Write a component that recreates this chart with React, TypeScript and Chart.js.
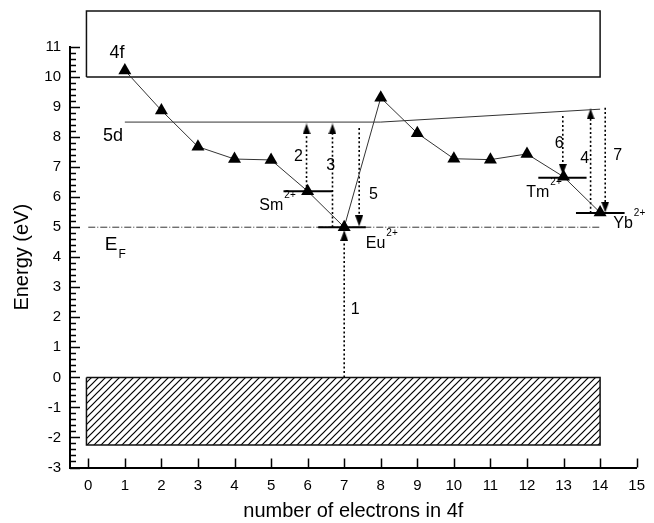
import React, { useEffect, useRef } from 'react';
import { Chart, registerables } from 'chart.js';

Chart.register(...registerables);

// ---- data ----
const electrons = [1, 2, 3, 4, 5, 6, 7, 8, 9, 10, 11, 12, 13, 14];
const energies = [10.22, 8.89, 7.68, 7.27, 7.24, 6.2, 5.0, 9.31, 8.13, 7.28, 7.25, 7.44, 6.68, 5.49];

const band5dX = [1, 8, 14];
const band5dY = [8.5, 8.5, 8.93];

const fermiX = [0, 14];
const fermiY = [5, 5];

const box4fX = [-0.05, 14, 14, -0.05, -0.05];
const box4fY = [10, 10, 12.2, 12.2, 10];

const valenceX = [-0.05, 14, 14, -0.05, -0.05];
const valenceY = [0, 0, -2.25, -2.25, 0];

const levelX0 = [5.34, 6.29, 12.31, 13.34];
const levelX1 = [6.68, 7.59, 13.63, 14.67];
const levelY = [6.2, 5.0, 6.65, 5.47];

// arrows 1..7
const arrowX = [7.0, 5.97, 6.68, 13.74, 7.41, 12.98, 14.14];
const arrowFrom = [0, 6.2, 5.0, 5.47, 8.3, 8.7, 8.98];
const arrowTo = [4.72, 8.27, 8.27, 8.77, 5.21, 6.93, 5.67];

const annText = ['4f', '5d', 'E', 'Sm', 'Eu', 'Tm', 'Yb', '1', '2', '3', '4', '5', '6', '7'];
const annSup = ['', '', '', '2+', '2+', '2+', '2+', '', '', '', '', '', '', ''];
const annSub = ['', '', 'F', '', '', '', '', '', '', '', '', '', '', ''];
const annX = [0.58, 0.4, 0.45, 4.68, 7.59, 11.98, 14.36, 7.18, 5.63, 6.51, 13.46, 7.68, 12.76, 14.36];
const annY = [10.81, 8.05, 4.42, 5.72, 4.47, 6.16, 5.12, 2.27, 7.36, 7.05, 7.28, 6.08, 7.78, 7.38];
const annSize = [18, 18, 19, 16, 16, 16, 16, 16, 16, 16, 16, 16, 16, 16];

const xTicks = [0, 1, 2, 3, 4, 5, 6, 7, 8, 9, 10, 11, 12, 13, 14, 15];
const yTicks = [-3, -2, -1, 0, 1, 2, 3, 4, 5, 6, 7, 8, 9, 10, 11];
const yMinorStep = 0.2;

const FONT = '"Liberation Sans", Arial, sans-serif';

function pts(xs: number[], ys: number[]) {
  return xs.map((x, i) => ({ x, y: ys[i] }));
}

function makeHatch(): CanvasPattern | string {
  const c = document.createElement('canvas');
  c.width = 7;
  c.height = 7;
  const g = c.getContext('2d')!;
  g.strokeStyle = '#000';
  g.lineWidth = 1.2;
  g.beginPath();
  g.moveTo(-1, 8);
  g.lineTo(8, -1);
  g.moveTo(-1, 1);
  g.lineTo(1, -1);
  g.moveTo(6, 8);
  g.lineTo(8, 6);
  g.stroke();
  const p = g.createPattern(c, 'repeat');
  return p || '#888';
}

function makeArrow(up: boolean) {
  const c = document.createElement('canvas');
  c.width = 8;
  c.height = 11;
  const g = c.getContext('2d')!;
  g.fillStyle = '#000';
  g.beginPath();
  if (up) {
    g.moveTo(4, 0);
    g.lineTo(8, 11);
    g.lineTo(0, 11);
  } else {
    g.moveTo(0, 0);
    g.lineTo(8, 0);
    g.lineTo(4, 11);
  }
  g.closePath();
  g.fill();
  return c;
}

const tickPlugin = {
  id: 'inwardTicks',
  afterDraw(chart: any) {
    const { ctx, chartArea, scales } = chart;
    const x = scales.x;
    const y = scales.y;
    ctx.save();
    ctx.strokeStyle = '#000';
    ctx.lineWidth = 1.5;
    ctx.beginPath();
    const yMin = yTicks[0];
    const yMax = yTicks[yTicks.length - 1];
    const n = Math.round((yMax - yMin) / yMinorStep);
    for (let i = 0; i <= n; i++) {
      const v = yMin + i * yMinorStep;
      const major = i % Math.round(1 / yMinorStep) === 0;
      const py = Math.round(y.getPixelForValue(v)) + 0.5;
      ctx.moveTo(chartArea.left, py);
      ctx.lineTo(chartArea.left + (major ? 10 : 6), py);
    }
    xTicks.forEach((v) => {
      const px = Math.round(x.getPixelForValue(v)) + 0.5;
      ctx.moveTo(px, chartArea.bottom);
      ctx.lineTo(px, chartArea.bottom - 9);
    });
    ctx.stroke();
    ctx.restore();
  },
};

const textPlugin = {
  id: 'texts',
  afterDatasetsDraw(chart: any) {
    const { ctx, scales } = chart;
    ctx.save();
    ctx.fillStyle = '#000';
    ctx.textBaseline = 'middle';
    ctx.textAlign = 'left';
    annText.forEach((t, i) => {
      const px = scales.x.getPixelForValue(annX[i]);
      const py = scales.y.getPixelForValue(annY[i]);
      const s = annSize[i];
      ctx.font = `${s}px ${FONT}`;
      ctx.fillText(t, px, py);
      const w = ctx.measureText(t).width;
      if (annSup[i]) {
        ctx.font = `${Math.round(s * 0.65)}px ${FONT}`;
        ctx.fillText(annSup[i], px + w + 1, py - s * 0.62);
      }
      if (annSub[i]) {
        ctx.font = `${Math.round(s * 0.65)}px ${FONT}`;
        ctx.fillText(annSub[i], px + w + 1, py + s * 0.55);
      }
    });
    ctx.restore();
  },
};

export default function App() {
  const ref = useRef<HTMLCanvasElement>(null);

  useEffect(() => {
    const canvas = ref.current;
    if (!canvas) return;
    const hatch = makeHatch();
    const upArrow = makeArrow(true);
    const downArrow = makeArrow(false);

    const datasets: any[] = [];

    datasets.push({
      data: pts(electrons, energies),
      borderColor: '#333',
      borderWidth: 1,
      pointStyle: 'triangle',
      pointRadius: 7.5,
      pointBackgroundColor: '#000',
      pointBorderColor: '#000',
      pointBorderWidth: 0,
      tension: 0,
      fill: false,
    });

    arrowX.forEach((ax, i) => {
      const up = arrowTo[i] > arrowFrom[i];
      datasets.push({
        data: [
          { x: ax, y: arrowFrom[i] },
          { x: ax, y: arrowTo[i] },
        ],
        borderColor: '#000',
        borderWidth: 1.6,
        borderDash: [2, 2.4],
        pointStyle: up ? upArrow : downArrow,
        pointRadius: [0, 5],
        fill: false,
      });
    });

    levelY.forEach((ly, i) => {
      datasets.push({
        data: [
          { x: levelX0[i], y: ly },
          { x: levelX1[i], y: ly },
        ],
        borderColor: '#000',
        borderWidth: 2,
        pointRadius: 0,
        fill: false,
      });
    });

    datasets.push({
      data: pts(band5dX, band5dY),
      borderColor: '#333',
      borderWidth: 1,
      pointRadius: 0,
      fill: false,
    });

    datasets.push({
      data: pts(fermiX, fermiY),
      borderColor: '#333',
      borderWidth: 1,
      borderDash: [7, 2, 1, 2],
      pointRadius: 0,
      fill: false,
    });

    datasets.push({
      data: pts(box4fX, box4fY),
      borderColor: '#111',
      borderWidth: 1.5,
      pointRadius: 0,
      fill: false,
      clip: false,
    });

    datasets.push({
      data: pts(valenceX, valenceY),
      borderColor: '#111',
      borderWidth: 1.5,
      pointRadius: 0,
      fill: false,
    });

    datasets.push({
      data: pts(valenceX.slice(0, 2), valenceY.slice(0, 2)),
      borderWidth: 0,
      borderColor: 'rgba(0,0,0,0)',
      pointRadius: 0,
      backgroundColor: hatch,
      fill: { value: valenceY[2] },
    });

    const tickFont = { family: FONT, size: 15 };

    const chart = new Chart(canvas, {
      type: 'line',
      data: { datasets },
      plugins: [tickPlugin, textPlugin],
      options: {
        animation: false,
        responsive: false,
        maintainAspectRatio: false,
        layout: { padding: { left: 0, right: 10, top: 47, bottom: 0 } },
        plugins: {
          legend: { display: false },
          tooltip: { enabled: false },
        },
        scales: {
          x: {
            type: 'linear',
            min: -0.5,
            max: 15,
            afterBuildTicks: (s: any) => {
              s.ticks = xTicks.map((v) => ({ value: v }));
            },
            afterFit: (s: any) => {
              s.height = 55.5;
            },
            ticks: {
              font: tickFont,
              color: '#000',
              padding: 9,
              maxRotation: 0,
              autoSkip: false,
            },
            grid: { display: false, drawTicks: false },
            border: { display: true, color: '#000', width: 2 },
            title: {
              display: true,
              text: 'number of electrons in 4f',
              color: '#000',
              font: { family: FONT, size: 20, lineHeight: 1 },
              padding: { top: 0, bottom: 2 },
            },
          },
          y: {
            type: 'linear',
            min: -3,
            max: 11,
            afterBuildTicks: (s: any) => {
              s.ticks = yTicks.map((v) => ({ value: v }));
            },
            afterFit: (s: any) => {
              s.width = 70;
            },
            ticks: {
              font: tickFont,
              color: '#000',
              padding: 9,
              autoSkip: false,
            },
            grid: { display: false, drawTicks: false },
            border: { display: true, color: '#000', width: 2 },
            title: {
              display: true,
              text: 'Energy (eV)',
              color: '#000',
              font: { family: FONT, size: 20, lineHeight: 1 },
              padding: { top: 12, bottom: 0 },
            },
          },
        },
      } as any,
    });

    return () => chart.destroy();
  }, []);

  return (
    <div style={{ position: 'absolute', left: 0, top: 0, width: 654, height: 523, background: '#fff' }}>
      <canvas ref={ref} width={654} height={523} style={{ width: 654, height: 523, display: 'block' }} />
    </div>
  );
}
